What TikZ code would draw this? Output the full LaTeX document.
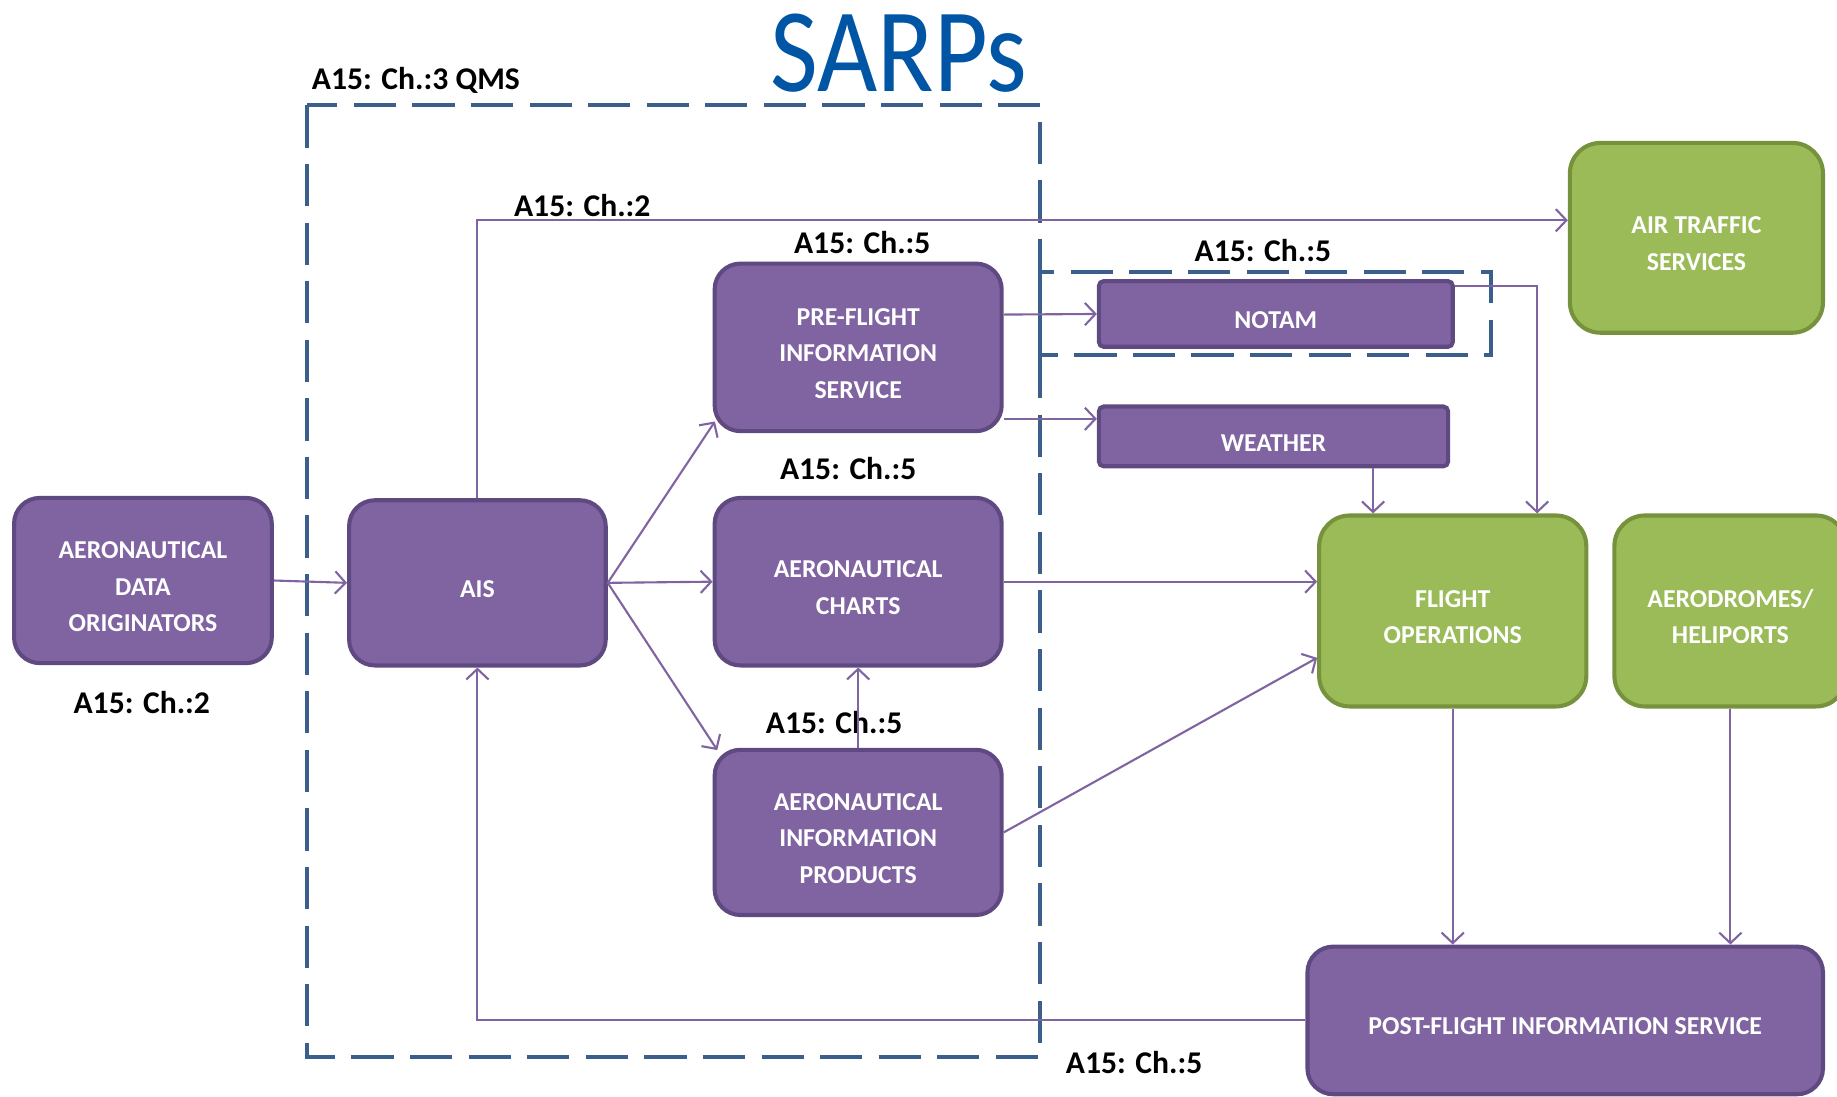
\documentclass[tikz,border=0pt]{standalone}
\usepackage{fontspec}
\setmainfont{Carlito}
\usetikzlibrary{arrows.meta}

\definecolor{purplefill}{HTML}{8064A2}
\definecolor{purpleline}{HTML}{5E4A80}
\definecolor{greenfill}{HTML}{9BBB59}
\definecolor{greenline}{HTML}{76923C}
\definecolor{flowline}{HTML}{8064A2}
\definecolor{qmsblue}{HTML}{3A5F8D}
\definecolor{sarpsblue}{HTML}{0055A4}

\newcommand{\boxfont}{\bfseries\fontsize{22}{31.5}\selectfont}
\newcommand{\labelfont}{\bfseries\fontsize{27}{27}\selectfont}

\tikzset{
  qms/.style={draw=qmsblue, line width=3.5pt, dash pattern=on 36pt off 14pt},
  flow/.style={draw=flowline, line width=1.8pt, -{Straight Barb[length=9pt,width=19pt]}},
  lowtext/.style={execute at begin node={\rule{0pt}{#1}}},
  lowtext/.default=25pt
}

\begin{document}
\begin{tikzpicture}[x=1pt,y=-1pt]

        \clip (0,0) rectangle (1568,936);

        \node[text=sarpsblue, font=\fontsize{102}{102}\selectfont] (sarps) at (767,45) {\scalebox{.87}[1]{SARPs}};

        \draw[qms] (262,90) rectangle (888,902);
        \draw[qms] (888,232) rectangle (1273,303);

        \begin{scope}[every node/.style={draw=purpleline, fill=purplefill, line width=3.5pt,
            rounded corners=22pt, text=white, font=\boxfont, align=center, inner sep=0pt, lowtext}]
          \node[minimum width=220pt, minimum height=141pt, lowtext=88pt] (ado)    at (122,495.5)   {AERONAUTICAL\\DATA\\ORIGINATORS};
          \node[minimum width=219pt, minimum height=141pt]               (ais)    at (407.5,497.5) {AIS};
          \node[minimum width=245pt, minimum height=143pt, lowtext=88pt] (pfis)   at (732.5,296.5) {PRE-FLIGHT\\INFORMATION\\SERVICE};
          \node[minimum width=245pt, minimum height=143pt, lowtext=56.5pt] (charts) at (732.5,496.5) {AERONAUTICAL\\CHARTS};
          \node[minimum width=245pt, minimum height=141pt, lowtext=88pt] (aip)    at (732.5,710.5) {AERONAUTICAL\\INFORMATION\\PRODUCTS};
          \node[minimum width=302pt, minimum height=56pt, rounded corners=4pt] (notam) at (1089,268) {NOTAM};
          \node[minimum width=298pt, minimum height=51pt, rounded corners=4pt] (wx)    at (1087,372.5) {WEATHER};
          \node[minimum width=440pt, minimum height=126pt] (postfis) at (1336,871) {POST-FLIGHT INFORMATION SERVICE};
        \end{scope}

        \begin{scope}[every node/.style={draw=greenline, fill=greenfill, line width=3.5pt,
            rounded corners=26pt, text=white, font=\boxfont, align=center, inner sep=0pt, lowtext=56.5pt}]
          \node[minimum width=216pt, minimum height=162pt] (ats)  at (1448,203)   {AIR TRAFFIC\\SERVICES};
          \node[minimum width=228pt, minimum height=163pt] (fo)   at (1240,521.5) {FLIGHT\\OPERATIONS};
          \node[minimum width=198pt, minimum height=163pt] (aero) at (1477,521.5) {AERODROMES/\\HELIPORTS};
        \end{scope}

        \begin{scope}[every node/.style={font=\labelfont}]
          \node (qmslabel)   at (355,69)   {A15: Ch.:3 QMS};
          \node (adolabel)   at (121,600)  {A15: Ch.:2};
          \node (atslabel)   at (497,175)  {A15: Ch.:2};
          \node (pfislabel)  at (736,207)  {A15: Ch.:5};
          \node (chartlabel) at (724,400)  {A15: Ch.:5};
          \node (aiplabel)   at (712,617)  {A15: Ch.:5};
          \node (notamlabel) at (1078,214) {A15: Ch.:5};
          \node (postlabel)  at (968,907)  {A15: Ch.:5};
        \end{scope}

        \begin{scope}[every edge/.style={flow}]
          \path (ado.east) edge (ais.west);
          \path (ais.east) edge ([xshift=2pt,yshift=10pt]pfis.south west);
          \path (ais.east) edge (charts.west);
          \path (ais.east) edge ([xshift=4pt,yshift=-2pt]aip.north west);
          \path (aip.north) edge (charts.south);
          \path ([yshift=28pt]pfis.east) edge (notam.west);
          \path ([yshift=-61pt]pfis.east) edge ([yshift=-61pt]pfis.east -| wx.west);
          \path (charts.east) edge (charts.east -| fo.west);
          \path (aip.east) edge ([yshift=-40pt]fo.west);
          \path ([xshift=85pt]wx.south) edge ([xshift=-68pt]fo.north);
          \path (fo.south) edge (fo.south |- postfis.north);
          \path (aero.south) edge (aero.south |- postfis.north);
        \end{scope}

        \draw[flow] (ais.north) |- ([yshift=15pt]ats.west);
        \draw[flow] ([yshift=-6pt]notam.north east) -| ([xshift=72pt]fo.north);
        \draw[flow] (postfis.west) -| (ais.south);

      \end{tikzpicture}
\end{document}
